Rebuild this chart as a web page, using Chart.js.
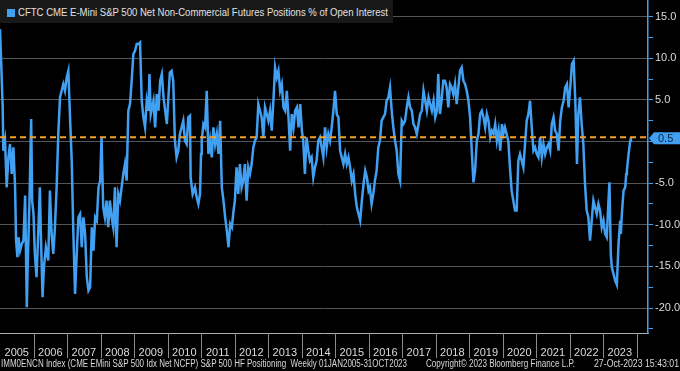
<!DOCTYPE html>
<html>
<head>
<meta charset="utf-8">
<script src="https://cdn.jsdelivr.net/npm/chart.js@4.4.0/dist/chart.umd.min.js"></script>
<style>
  html, body { margin: 0; padding: 0; background: #000; }
  #wrap { position: relative; width: 680px; height: 371px; overflow: hidden; }
  #legend {
    position: absolute; left: 0; top: 0; width: 393px; height: 23px;
    background: #181818; color: #e2e2e2;
    font: 11px "Liberation Sans", Arial, sans-serif;
  }
  #legend .box { position: absolute; left: 7px; top: 9px; width: 8px; height: 8px; background: #41a0f2; }
  .fit { position: absolute; white-space: nowrap; transform-origin: 0 50%; }
  #legend .fit { left: 18px; top: 6px; }
  .foot {
    top: 358px; color: #d8d8d8;
    font: 10px "Liberation Sans", Arial, sans-serif;
  }
</style>
</head>
<body>
<div id="wrap">
  <canvas id="chart" width="680" height="371"></canvas>
  <div id="legend"><span class="box"></span><span class="fit" data-w="370">CFTC CME E-Mini S&amp;P 500 Net Non-Commercial Futures Positions % of Open Interest</span></div>
  <span class="fit foot" style="left:1px" data-w="406">IMM0ENCN Index (CME EMini S&amp;P 500 Idx Net NCFP) S&amp;P 500 HF Positioning&nbsp;&nbsp;Weekly 01JAN2005-31OCT2023</span>
  <span class="fit foot" style="left:426px" data-w="149">Copyright© 2023 Bloomberg Finance L.P.</span>
  <span class="fit foot" style="left:594px" data-w="85">27-Oct-2023 15:43:01</span>
</div>
<script>
// semaines (année décimale) et position nette en % de l'open interest
const weeks = [
  2005.00, 2005.03, 2005.08, 2005.10, 2005.15, 2005.20, 2005.25, 2005.30, 2005.35, 2005.40,
  2005.45, 2005.48, 2005.52, 2005.55, 2005.60, 2005.65, 2005.70, 2005.75, 2005.80, 2005.83,
  2005.88, 2005.93, 2005.96, 2006.00, 2006.04, 2006.09, 2006.14, 2006.19, 2006.22, 2006.27,
  2006.31, 2006.37, 2006.44, 2006.49, 2006.54, 2006.59, 2006.64, 2006.69, 2006.74, 2006.79,
  2006.84, 2006.89, 2006.94, 2006.99, 2007.04, 2007.09, 2007.14, 2007.19, 2007.24, 2007.29,
  2007.34, 2007.39, 2007.44, 2007.49, 2007.54, 2007.59, 2007.64, 2007.69, 2007.74, 2007.79,
  2007.84, 2007.89, 2007.94, 2007.99, 2008.03, 2008.08, 2008.13, 2008.18, 2008.23, 2008.28,
  2008.33, 2008.38, 2008.43, 2008.48, 2008.53, 2008.58, 2008.63, 2008.68, 2008.73, 2008.78,
  2008.83, 2008.88, 2008.93, 2008.98, 2009.03, 2009.08, 2009.13, 2009.18, 2009.23, 2009.28,
  2009.33, 2009.38, 2009.43, 2009.46, 2009.50, 2009.58, 2009.63, 2009.68, 2009.73, 2009.78,
  2009.83, 2009.88, 2009.93, 2009.98, 2010.02, 2010.07, 2010.12, 2010.17, 2010.22, 2010.27,
  2010.32, 2010.37, 2010.42, 2010.47, 2010.52, 2010.57, 2010.62, 2010.67, 2010.69, 2010.75,
  2010.82, 2010.87, 2010.92, 2010.97,
  2011.00, 2011.02, 2011.07, 2011.12, 2011.17, 2011.22, 2011.27, 2011.32, 2011.37, 2011.42,
  2011.47, 2011.52, 2011.57, 2011.62, 2011.67, 2011.72, 2011.77, 2011.82, 2011.87, 2011.92,
  2011.97, 2012.01, 2012.06, 2012.11, 2012.16, 2012.21, 2012.26, 2012.31, 2012.36, 2012.41,
  2012.46, 2012.51, 2012.56, 2012.61, 2012.66, 2012.71, 2012.76, 2012.81, 2012.86, 2012.91,
  2012.96, 2013.01, 2013.06, 2013.11, 2013.16, 2013.21, 2013.26, 2013.31, 2013.36, 2013.41,
  2013.46, 2013.51, 2013.56, 2013.61, 2013.66, 2013.71, 2013.76, 2013.81, 2013.86, 2013.91,
  2013.96, 2014.01, 2014.05, 2014.10, 2014.15, 2014.20, 2014.25, 2014.30, 2014.35, 2014.40,
  2014.45, 2014.50, 2014.55, 2014.60, 2014.65, 2014.70, 2014.75, 2014.80, 2014.85, 2014.90,
  2014.95, 2015.00, 2015.05, 2015.10, 2015.15, 2015.20, 2015.25, 2015.30, 2015.35, 2015.40,
  2015.45, 2015.50, 2015.55, 2015.60, 2015.65, 2015.70, 2015.75, 2015.80, 2015.85, 2015.90,
  2015.95, 2016.00, 2016.04, 2016.09, 2016.14, 2016.19, 2016.24, 2016.29, 2016.34, 2016.39,
  2016.44, 2016.49, 2016.54, 2016.59, 2016.64, 2016.69, 2016.74, 2016.79, 2016.84, 2016.89,
  2016.94,
  2016.99, 2017.04, 2017.09, 2017.14, 2017.19, 2017.24, 2017.29, 2017.34, 2017.39, 2017.44,
  2017.49, 2017.54, 2017.59, 2017.64, 2017.69, 2017.74, 2017.79, 2017.84, 2017.89, 2017.94,
  2017.99, 2018.04, 2018.08, 2018.13, 2018.18, 2018.23, 2018.28, 2018.33, 2018.38, 2018.43,
  2018.48, 2018.53, 2018.58, 2018.63, 2018.68, 2018.73, 2018.78, 2018.83, 2018.88, 2018.93,
  2018.98, 2019.03, 2019.08, 2019.13, 2019.18, 2019.23, 2019.28, 2019.33, 2019.38, 2019.43,
  2019.48, 2019.53, 2019.58, 2019.63, 2019.68, 2019.73, 2019.78, 2019.83, 2019.88, 2019.93,
  2019.98, 2020.02, 2020.07, 2020.12, 2020.17, 2020.22, 2020.27, 2020.32, 2020.37, 2020.42,
  2020.47, 2020.52, 2020.57, 2020.62, 2020.67, 2020.72, 2020.77, 2020.82, 2020.87, 2020.92,
  2020.97, 2021.02, 2021.07, 2021.12, 2021.17, 2021.22, 2021.27, 2021.32, 2021.37, 2021.42,
  2021.47, 2021.52, 2021.57, 2021.62, 2021.67, 2021.72, 2021.77, 2021.82, 2021.87, 2021.92,
  2021.97, 2022.02, 2022.07, 2022.12, 2022.17, 2022.22, 2022.26, 2022.31, 2022.36, 2022.41,
  2022.46, 2022.51, 2022.56, 2022.61, 2022.66, 2022.71, 2022.76, 2022.81, 2022.86, 2022.91,
  2022.96, 2023.01, 2023.06, 2023.11, 2023.16, 2023.19, 2023.23, 2023.26, 2023.31, 2023.36,
  2023.41, 2023.46, 2023.51, 2023.53, 2023.56, 2023.61, 2023.66, 2023.69, 2023.71, 2023.76,
  2023.81, 2023.83
];
const netPct = [
  13.5, 10.1, 4.1, -1.1, 0.1, -5.5, -1.9, -0.3, -3.9, -0.7,
  -5.5, -11.9, -13.9, -11.5, -13.1, -12.3, -11.9, -6.5, -19.9, -14.3,
  -7.1, 2.7, -7.1, -8.7, -13.5, -16.3, -11.1, -5.5, -11.1, -18.7,
  -15.1, -12.7, -14.3, -5.9, -11.1, -13.5, -10.3, -5.5, 0.9, 5.3,
  6.1, 6.9, 6.1, 7.7, 8.5, 2.9, -2.3, -11.1, -18.3, -13.5,
  -9.1, -8.7, -12.7, -9.1, -11.1, -16.3, -17.9, -17.5, -10.3, -13.1,
  -9.1, -9.5, -5.5, -4.7, 0.5, -7.9, -9.1, -7.1, -10.3, -7.1,
  -9.1, -10.3, -5.5, -12.7, -6.3, -7.1, -5.5, -3.9, -2.7, -4.7,
  3.7, 4.5, 7.3, 10.5, 10.9, 11.7, 11.7, 11.9, 4.9, 2.9,
  1.7, 4.9, 3.7, 8.1, 3.3, 4.9, 1.7, 5.7, 3.7, 7.3,
  8.1, 5.3, 3.7, 2.1, 4.9, 8.3, 8.5, 7.3, 0.1, -1.9,
  -1.1, 0.9, 1.7, 2.5, 0.1, -0.3, 2.9, 3.1, -4.3, -6.3,
  -5.5, -6.7, -7.5, -6.3,
  -1.5, 0.1, 2.1, 1.7, 6.1, -1.5, 0.1, -1.9, 1.7, -0.3,
  0.9, -1.5, 2.5, -5.5, -7.1, -9.1, -10.7, -12.7, -9.9, -10.3,
  -8.3, -7.1, -3.1, -6.3, -2.7, -5.5, -4.7, -2.7, -7.1, -3.1,
  -3.9, -2.7, -0.7, 0.1, 0.5, 4.5, 3.7, 2.9, 0.5, 4.1,
  3.3, 2.5, 3.7, 1.3, 4.9, 8.9, 7.7, 8.5, 6.1, 6.9,
  4.1, 3.7, 6.1, 2.9, -1.1, 3.3, 1.7, 3.7, 4.1, 1.7,
  4.5, 1.3, 0.1, -3.9, 0.5, -1.1, -2.3, -1.9, -4.3, -3.1,
  -2.3, 0.1, 0.5, -0.7, -1.9, 1.7, -0.7, 0.9, 0.1, 1.7,
  3.7, 6.1, 3.3, 2.9, -1.1, -1.9, -2.7, -1.5, -2.7, -1.9,
  -3.1, -4.7, -3.9, -6.3, -7.9, -8.7, -9.5, -7.1, -5.1, -3.5,
  -4.3, -5.9, -5.5, -7.5, -6.3, -4.7, -3.5, -0.7, 0.1, 2.5,
  2.9, 3.3, 4.9, 5.3, 6.5, 3.7, 1.7, 0.1, -1.1, -3.9,
  -4.7,
  2.5, 2.1, 2.5, 4.1, 5.3, 4.1, 3.7, 2.1, 1.7, 0.9,
  2.1, 3.3, 3.7, 6.1, 4.9, 3.7, 5.3, 4.5, 3.7, 4.9,
  2.9, 3.7, 8.1, 3.3, 4.9, 7.3, 7.3, 6.5, 4.1, 6.9,
  6.5, 5.7, 6.9, 4.5, 6.5, 8.5, 8.9, 7.3, 6.9, 6.1,
  4.9, 2.9, -1.1, -4.9, -3.5, 0.1, 0.9, 3.3, 3.7, 2.9,
  1.7, 3.3, 2.5, 0.5, 1.3, 0.9, 2.1, 0.1, 1.3, -1.1,
  2.1, 0.9, 1.7, 0.9, 0.1, -3.1, -5.9, -7.1, -8.3, -8.3,
  -2.3, -1.5, -2.3, -3.1, -0.3, 2.5, 3.3, 4.9, 1.7, -1.1,
  -0.7, -1.5, -1.9, 0.5, -1.9, -0.3, -1.5, -0.7, -0.3, -1.1,
  2.1, 2.9, 1.3, 0.9, -1.1, 2.5, 4.1, 4.9, 6.5, 6.9,
  4.1, 6.5, 9.3, 9.7, 4.9, -2.7, 3.3, 5.3, 2.1, -0.3,
  -5.1, -8.3, -9.1, -11.9, -9.5, -7.1, -7.9, -8.7, -7.5, -8.3,
  -10.3, -9.5, -11.1, -11.5, -7.1, -4.9, -13.5, -15.1, -15.9, -16.7,
  -17.2, -12.3, -9.5, -11.1, -8.7, -5.9, -5.5, -3.9, -3.5, -1.5,
  0.1, 0.5
];
const lastValue = 0.5;
const yearLabels = [2005, 2006, 2007, 2008, 2009, 2010, 2011, 2012, 2013, 2014,
  2015, 2016, 2017, 2018, 2019, 2020, 2021, 2022, 2023];
const yTicks = [-22.5, -20, -17.5, -15, -12.5, -10, -7.5, -5, -2.5, 0, 2.5, 5, 7.5, 10, 12.5, 15];

const X_MIN = 2005, X_MAX = 2024.34;
const BLUE = '#41a0f2';
const ORANGE = '#f3a12c';
const FONT = '"Liberation Sans", Arial, sans-serif';

// ajuster la largeur des textes HTML (police Bloomberg étroite)
document.querySelectorAll('.fit').forEach(el => {
  const w = el.getBoundingClientRect().width;
  el.style.transform = 'scaleX(' + (Number(el.dataset.w) / w) + ')';
});

// traits séparateurs entre les années, sous l'axe x
const yearSeparators = {
  id: 'yearSeparators',
  afterDraw(chart) {
    const { ctx, scales: { x }, chartArea } = chart;
    ctx.save();
    ctx.strokeStyle = '#8a8a8a';
    ctx.lineWidth = 1;
    for (let yr = 2005; yr <= 2024; yr++) {
      const px = Math.round(x.getPixelForValue(yr)) + 0.5;
      if (px < chartArea.left + 2 || px > chartArea.right) continue;
      ctx.beginPath();
      ctx.moveTo(px, chartArea.bottom);
      ctx.lineTo(px, chartArea.bottom + 25);
      ctx.stroke();
    }
    ctx.restore();
  }
};

// étiquette de la dernière valeur sur l'axe de droite
const lastTag = {
  id: 'lastTag',
  afterDraw(chart) {
    const { ctx, scales: { y }, chartArea } = chart;
    const py = y.getPixelForValue(lastValue) + 1;
    const x0 = chartArea.right + 1;
    ctx.save();
    ctx.fillStyle = BLUE;
    ctx.beginPath();
    ctx.moveTo(x0, py);
    ctx.lineTo(x0 + 5, py - 6);
    ctx.lineTo(chart.width, py - 6);
    ctx.lineTo(chart.width, py + 6);
    ctx.lineTo(x0 + 5, py + 6);
    ctx.closePath();
    ctx.fill();
    ctx.fillStyle = '#0c2340';
    ctx.font = '11px ' + FONT;
    ctx.textBaseline = 'middle';
    ctx.fillText(lastValue.toFixed(1), x0 + 9, py + 0.5);
    ctx.restore();
  }
};

new Chart(document.getElementById('chart'), {
  type: 'line',
  data: {
    datasets: [
      {
        data: [{ x: X_MIN, y: lastValue }, { x: X_MAX, y: lastValue }],
        borderColor: ORANGE,
        borderWidth: 2,
        borderDash: [6, 4],
        pointRadius: 0,
        order: 0
      },
      {
        data: weeks.map((w, i) => ({ x: w, y: netPct[i] })),
        borderColor: BLUE,
        borderWidth: 2.5,
        pointRadius: 0,
        tension: 0,
        order: 1
      }
    ]
  },
  options: {
    responsive: false,
    animation: false,
    layout: { padding: { left: 0, right: 0, top: 0, bottom: 14 } },
    plugins: { legend: { display: false }, tooltip: { enabled: false } },
    scales: {
      x: {
        type: 'linear',
        min: X_MIN,
        max: X_MAX,
        afterBuildTicks: s => { s.ticks = yearLabels.map(yr => ({ value: yr + 0.5 })); },
        afterFit: s => { s.height = 24; s.paddingLeft = 0; s.paddingRight = 0; },
        ticks: {
          color: '#dcdcdc',
          font: { family: FONT, size: 11 },
          padding: 13,
          maxRotation: 0,
          autoSkip: false,
          callback: v => String(Math.floor(v))
        },
        grid: { display: false, drawTicks: false },
        border: { display: true, color: '#b0b0b0', width: 1 }
      },
      y: {
        position: 'right',
        min: -23,
        max: 17,
        afterBuildTicks: s => { s.ticks = yTicks.map(v => ({ value: v })); },
        afterFit: s => { s.width = 32; s.paddingTop = 0; s.paddingBottom = 0; },
        ticks: {
          color: '#dcdcdc',
          font: { family: FONT, size: 11 },
          padding: 2,
          callback: v => (v % 5 === 0 && v !== 0) ? v.toFixed(1) : ''
        },
        grid: {
          color: c => (c.tick && c.tick.value % 5 === 0) ? '#555555' : 'rgba(0,0,0,0)',
          tickColor: BLUE,
          tickLength: 5,
          lineWidth: 1
        },
        border: { display: true, color: BLUE, width: 1.5 }
      }
    }
  },
  plugins: [yearSeparators, lastTag]
});
</script>
</body>
</html>
